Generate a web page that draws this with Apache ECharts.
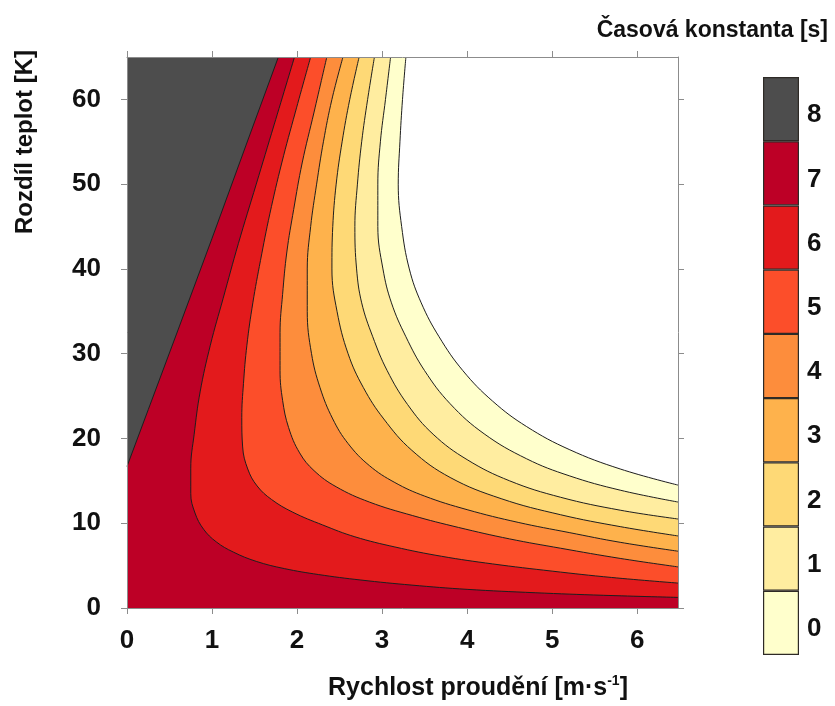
<!DOCTYPE html>
<html>
<head>
<meta charset="utf-8">
<script src="https://cdn.jsdelivr.net/npm/echarts@6/dist/echarts.min.js"></script>
<style>
    html, body { margin: 0; padding: 0; background: #fff; }
    #chart { width: 835px; height: 706px; }
</style>
</head>
<body>
<div id="chart"></div>
<script>
// contour lines: [speed m/s, temperature difference K]
var contour0 = [[3.28, 65], [3.24, 60], [3.21, 55], [3.19, 50], [3.23, 45], [3.32, 40], [3.46, 36], [3.67, 32], [3.95, 28], [4.3, 24.4], [4.7, 21.4], [5.2, 18.7], [5.8, 16.4], [6.48, 14.5]];
var contour1 = [[3.10, 65], [3.04, 60], [2.98, 55], [2.95, 50], [2.95, 45], [3.01, 40], [3.11, 36], [3.28, 32], [3.50, 28], [3.8, 24.1], [4.2, 20.55], [4.7, 17.6], [5.2, 15.6], [5.8, 13.9], [6.48, 12.5]];
var contour2 = [[2.91, 65], [2.83, 60], [2.76, 55], [2.71, 50], [2.68, 45], [2.70, 40], [2.76, 36], [2.89, 32], [3.06, 28], [3.30, 24], [3.6, 20.5], [4.0, 17.5], [4.5, 15.0], [5.1, 13.06], [5.8, 11.54], [6.48, 10.5]];
var contour3 = [[2.73, 65], [2.62, 60], [2.53, 55], [2.46, 50], [2.42, 45], [2.41, 40], [2.47, 35], [2.60, 30], [2.78, 26], [3.02, 22.3], [3.35, 18.6], [3.8, 15.4], [4.4, 12.9], [5.1, 11.0], [5.8, 9.6], [6.48, 8.5]];
var contour4 = [[2.54, 65], [2.41, 60], [2.31, 55], [2.23, 50], [2.16, 45], [2.12, 40], [2.12, 35], [2.17, 30], [2.27, 26], [2.42, 22.3], [2.6, 19.4], [2.85, 16.8], [3.15, 14.8], [3.5, 13.2], [4.0, 11.6], [4.6, 10.1], [5.2, 8.9], [5.8, 7.75], [6.48, 6.7]];
var contour5 = [[2.35, 65], [2.2, 58.5], [2.06, 52.5], [1.96, 47], [1.88, 42], [1.83, 37], [1.8, 32.5], [1.8, 28], [1.83, 24.5], [1.9, 21.3], [2.03, 18.3], [2.2, 16.2], [2.46, 14.3], [2.85, 12.5], [3.36, 10.9], [3.9, 9.5], [4.5, 8.15], [5.1, 7.05], [5.8, 5.85], [6.48, 4.85]];
var contour6 = [[2.16, 65], [1.98, 58.5], [1.82, 52.5], [1.68, 46.5], [1.57, 41], [1.48, 36], [1.41, 31], [1.37, 26.5], [1.35, 22.5], [1.36, 19], [1.42, 16.4], [1.53, 14.4], [1.7, 12.8], [1.95, 11.3], [2.3, 9.8], [2.68, 8.4], [3.15, 7.2], [3.7, 6.1], [4.3, 5.2], [5.0, 4.35], [5.7, 3.6], [6.48, 2.94]];
var contour7 = [[1.97, 65], [1.73, 57], [1.52, 50], [1.31, 43], [1.13, 36.5], [0.98, 31], [0.86, 25.5], [0.79, 20.5], [0.75, 16.5], [0.75, 13.5], [0.8, 11.2], [0.9, 9.3], [1.05, 7.8], [1.25, 6.6], [1.52, 5.5], [1.85, 4.65], [2.25, 3.95], [2.75, 3.3], [3.35, 2.7], [4.0, 2.2], [4.8, 1.8], [5.6, 1.5], [6.48, 1.25]];
var contour8 = [[0, 16.7], [0.25, 23.4], [0.6, 32.8], [1.0, 43.6], [1.4, 54.6], [1.78, 65]];

var xTicks = [0, 1, 2, 3, 4, 5, 6];
var yTicks = [0, 10, 20, 30, 40, 50, 60];
var levelLabels = ['0', '1', '2', '3', '4', '5', '6', '7', '8'];
var levelColors = ['#ffffcc', '#ffeda0', '#fed976', '#feb24c', '#fd8d3c', '#fc4e2a', '#e31a1c', '#bd0026', '#4d4d4d'];

var FONT = '"Liberation Sans", Arial, sans-serif';
var axisGray = '#8c8c8c';

var chart = echarts.init(document.getElementById('chart'));

var contours = [contour0, contour1, contour2, contour3, contour4, contour5, contour6, contour7];
var series = [];

// paint from the innermost (7) outwards: area right of line k gets colour of band k-1
for (var k = 7; k >= 0; k--) {
    series.push({
        type: 'line',
        data: contours[k],
        smooth: 0.4,
        showSymbol: false,
        silent: true,
        lineStyle: { width: 0 },
        areaStyle: { origin: 'end', color: k > 0 ? levelColors[k - 1] : '#ffffff', opacity: 1 },
        z: 10 - k
    });
}
// dark region above the line 8
series.push({
    type: 'line',
    data: contour8,
    showSymbol: false,
    silent: true,
    lineStyle: { width: 0 },
    areaStyle: { origin: 'end', color: levelColors[8], opacity: 1 },
    z: 11
});
// black contour lines
contours.concat([contour8]).forEach(function (line, i) {
    series.push({
        type: 'line',
        data: line,
        smooth: i < 8 ? 0.4 : false,
        showSymbol: false,
        silent: true,
        lineStyle: { color: '#1e1e1e', width: 1 },
        z: 20
    });
});
// colour bar
series.push({
    type: 'bar',
    xAxisIndex: 2,
    yAxisIndex: 2,
    barWidth: '100%',
    silent: true,
    data: levelLabels.map(function (l, i) {
        return { value: 1, itemStyle: { color: levelColors[i] } };
    }),
    itemStyle: { borderColor: '#2e2a26', borderWidth: 1.2 }
});

var tickLabel = { fontFamily: FONT, fontWeight: 'bold', fontSize: 26, color: '#111' };

chart.setOption({
    animation: false,
    grid: [
        { left: 127, top: 57, width: 551, height: 551, show: true, backgroundColor: levelColors[7], borderWidth: 0 },
        { left: 763, top: 77, width: 36, height: 578 }
    ],
    xAxis: [
        {
            type: 'value', gridIndex: 0, min: 0, max: 6.48, position: 'bottom', z: 30,
            axisLine: { show: true, onZero: false, lineStyle: { color: axisGray } },
            axisTick: { show: true, length: 6, customValues: xTicks, lineStyle: { color: axisGray } },
            axisLabel: Object.assign({ margin: 20, customValues: xTicks }, tickLabel),
            splitLine: { show: false }
        },
        {
            type: 'value', gridIndex: 0, min: 0, max: 6.48, position: 'top', z: 30,
            axisLine: { show: true, onZero: false, lineStyle: { color: axisGray } },
            axisTick: { show: true, length: 6, customValues: xTicks, lineStyle: { color: axisGray } },
            axisLabel: { show: false },
            splitLine: { show: false }
        },
        {
            type: 'value', gridIndex: 1, min: 0, max: 1, show: false
        }
    ],
    yAxis: [
        {
            type: 'value', gridIndex: 0, min: 0, max: 65, position: 'left', z: 30,
            axisLine: { show: true, onZero: false, lineStyle: { color: axisGray } },
            axisTick: { show: true, length: 6, customValues: yTicks, lineStyle: { color: axisGray } },
            axisLabel: Object.assign({ margin: 26, customValues: yTicks }, tickLabel),
            splitLine: { show: false }
        },
        {
            type: 'value', gridIndex: 0, min: 0, max: 65, position: 'right', z: 30,
            axisLine: { show: true, onZero: false, lineStyle: { color: axisGray } },
            axisTick: { show: true, length: 6, customValues: yTicks, lineStyle: { color: axisGray } },
            axisLabel: { show: false },
            splitLine: { show: false }
        },
        {
            type: 'category', gridIndex: 1, position: 'right', data: levelLabels,
            axisLine: { show: false },
            axisTick: { show: false },
            axisLabel: Object.assign({ margin: 8, verticalAlign: 'top', lineHeight: 12 }, tickLabel)
        }
    ],
    graphic: [
        {
            type: 'text', x: 828, y: 31,
            style: { text: 'Časová konstanta [s]', font: 'bold 23px ' + FONT, fill: '#111', align: 'right', verticalAlign: 'middle' }
        },
        {
            type: 'text', x: 25, y: 142, rotation: Math.PI / 2,
            style: { text: 'Rozdíl teplot [K]', font: 'bold 24px ' + FONT, fill: '#111', align: 'center', verticalAlign: 'middle' }
        },
        {
            type: 'text', x: 478, y: 688,
            style: {
                text: '{a|Rychlost proudění [m·s}{b|-1}{a|]}',
                align: 'center', verticalAlign: 'middle', fill: '#111',
                rich: {
                    a: { fontFamily: FONT, fontWeight: 'bold', fontSize: 25, lineHeight: 28 },
                    b: { fontFamily: FONT, fontWeight: 'bold', fontSize: 14, lineHeight: 16, verticalAlign: 'top' }
                }
            }
        }
    ],
    series: series
});
</script>
</body>
</html>
